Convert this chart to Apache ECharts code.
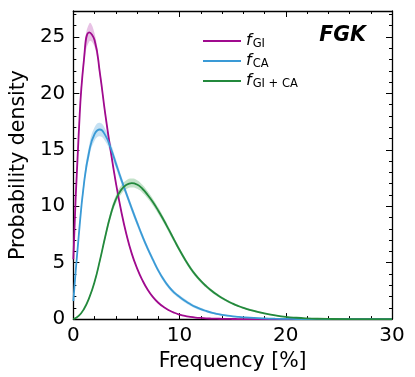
<!DOCTYPE html>
<html><head><meta charset="utf-8">
<script src="https://cdn.jsdelivr.net/npm/echarts@6/dist/echarts.min.js"></script>
<style>html,body{margin:0;padding:0;background:#fff}#c{width:415px;height:377px}</style>
</head><body><div id="c"></div>
<script>
const xs = [0,0.5,1,1.5,2,2.5,3,3.5,4,4.5,5,5.5,6,6.5,7,7.5,8,8.5,9,9.5,10,10.5,11,11.5,12,12.5,13,13.5,14,14.5,15,15.5,16,17,18,19,20,21,22,23,24,26,28,30];
const fGI = [5.3,16.3,23.0,25.4,24.7,21.8,18.2,15.0,12.1,9.6,7.5,5.8,4.5,3.45,2.6,1.95,1.45,1.07,0.78,0.56,0.4,0.28,0.2,0.14,0.1,0.07,0.05,0.035,0.025,0.015,0.01,0.005,0,0,0,0,0,0,0,0,0,0,0,0];
const fCA = [1.6,7.3,12.0,14.9,16.4,16.8,16.3,15.2,13.8,12.4,11.1,9.8,8.55,7.35,6.25,5.25,4.3,3.5,2.85,2.35,1.97,1.63,1.33,1.08,0.88,0.72,0.58,0.47,0.38,0.31,0.25,0.2,0.16,0.1,0.06,0.035,0.02,0.01,0.005,0,0,0,0,0];
const fGICA = [0,0.28,0.9,1.9,3.3,5.2,7.3,9.2,10.6,11.45,11.9,12.05,11.92,11.55,11.0,10.35,9.6,8.78,7.9,7.0,6.12,5.3,4.56,3.92,3.38,2.92,2.52,2.17,1.87,1.6,1.37,1.17,1.0,0.72,0.5,0.33,0.2,0.12,0.065,0.03,0.012,0,0,0];
const bandGI = [0.3,0.45,0.6,0.8,0.6,0.4,0.3,0.25,0.2,0.18,0.15,0.12,0.1,0.09,0.08,0.06,0.05,0.04,0.03,0.02,0.02,0.01,0.01,0,0,0,0,0,0,0,0,0,0,0,0,0,0,0,0,0,0,0,0,0];
const bandCA = [0.15,0.35,0.45,0.55,0.6,0.6,0.55,0.45,0.4,0.35,0.3,0.3,0.28,0.26,0.24,0.22,0.2,0.2,0.18,0.17,0.16,0.15,0.14,0.13,0.12,0.11,0.1,0.09,0.08,0.07,0.06,0.055,0.05,0.04,0.03,0.02,0.01,0.01,0,0,0,0,0,0];
const bandGICA = [0,0.04,0.08,0.12,0.17,0.22,0.27,0.32,0.35,0.38,0.4,0.4,0.38,0.35,0.32,0.3,0.28,0.26,0.24,0.22,0.2,0.19,0.18,0.17,0.16,0.15,0.14,0.13,0.12,0.11,0.1,0.09,0.09,0.08,0.06,0.05,0.04,0.03,0.02,0.01,0.01,0,0,0];
const xTicks = [0,10,20,30];
const yTicks = [0,5,10,15,20,25];
const seriesNames = ['GI','CA','GI + CA'];

const colGI = '#a00a8e', colCA = '#3a9ad6', colGICA = '#23893c';
const FONT = 'DejaVu Sans';

function lineSeries(name, vals, color) {
  return {
    name, type: 'line', xAxisIndex: 0, yAxisIndex: 0, z: 3,
    data: xs.map((x, i) => [x, vals[i]]),
    smooth: 0.5, showSymbol: false, symbol: 'none',
    lineStyle: { color, width: 1.8 }, itemStyle: { color }, animation: false
  };
}
function bandSeries(vals, half, color) {
  return {
    type: 'custom', xAxisIndex: 0, yAxisIndex: 0, z: 2, silent: true,
    data: [[0, 0]],
    renderItem: (params, api) => {
      const pts = [];
      for (let i = 0; i < xs.length; i++) pts.push(api.coord([xs[i], vals[i] + half[i]]));
      for (let i = xs.length - 1; i >= 0; i--) pts.push(api.coord([xs[i], Math.max(0, vals[i] - half[i])]));
      return { type: 'polygon', shape: { points: pts, smooth: 0.5 }, style: { fill: color } };
    }
  };
}
const GRID = { left: 72, right: 23, top: 11, bottom: 57 };
function xAx(pos, interval, len, labels, line) {
  return {
    type: 'value', position: pos, min: 0, max: 30, interval,
    axisLine: { show: line, onZero: false, lineStyle: { color: '#000', width: 1.3 } },
    axisTick: { show: true, inside: true, length: len, lineStyle: { color: '#000', width: 1 } },
    axisLabel: { show: labels, color: '#000', fontSize: 20, fontFamily: FONT, margin: 7 },
    splitLine: { show: false },
    name: labels ? 'Frequency [%]' : '', nameLocation: 'middle', nameGap: 25,
    nameTextStyle: { color: '#000', fontSize: 20.5, fontFamily: FONT }
  };
}
function yAx(pos, interval, len, labels, line) {
  return {
    type: 'value', position: pos, min: 0, max: 27.3, interval,
    axisLine: { show: line, onZero: false, lineStyle: { color: '#000', width: 1.3 } },
    axisTick: { show: true, inside: true, length: len, lineStyle: { color: '#000', width: 1 } },
    axisLabel: { show: labels, color: '#000', fontSize: 20, fontFamily: FONT, margin: 8,
      formatter: v => (yTicks.indexOf(v) >= 0 ? String(v) : '') },
    splitLine: { show: false },
    name: labels ? 'Probability density' : '', nameLocation: 'middle', nameGap: 28,
    nameTextStyle: { color: '#000', fontSize: 20.5, fontFamily: FONT }
  };
}
const chart = echarts.init(document.getElementById('c'), null, { renderer: 'canvas' });
chart.setOption({
  animation: false,
  backgroundColor: '#fff',
  grid: GRID,
  xAxis: [xAx('bottom', 10, 6, true, true), xAx('bottom', 2, 3, false, false), xAx('top', 10, 6, false, true), xAx('top', 2, 3, false, false)],
  yAxis: [yAx('left', 5, 6, true, true), yAx('left', 1, 3, false, false), yAx('right', 5, 6, false, true), yAx('right', 1, 3, false, false)],
  legend: {
    data: seriesNames, orient: 'vertical', left: 198, top: 27, itemGap: 2,
    itemWidth: 38, itemHeight: 2, icon: 'rect', itemStyle: { borderWidth: 0 },
    formatter: n => '{f|f}{s|' + n + '}',
    textStyle: {
      color: '#000', fontFamily: FONT,
      rich: {
        f: { fontSize: 16, fontStyle: 'italic', fontFamily: FONT, color: '#000', lineHeight: 16 },
        s: { fontSize: 11.5, fontFamily: FONT, color: '#000', padding: [6, 0, 0, 1], lineHeight: 12 }
      }
    }
  },
  graphic: [{
    type: 'text', right: 49, top: 26,
    style: { text: 'FGK', font: 'italic bold 20.5px "DejaVu Sans"', fill: '#000' }
  }],
  series: [
    bandSeries(fGI, bandGI, 'rgba(190,80,180,0.35)'),
    bandSeries(fCA, bandCA, 'rgba(90,170,220,0.35)'),
    bandSeries(fGICA, bandGICA, 'rgba(60,160,80,0.3)'),
    lineSeries('GI', fGI, colGI),
    lineSeries('CA', fCA, colCA),
    lineSeries('GI + CA', fGICA, colGICA)
  ]
});
</script></body></html>
